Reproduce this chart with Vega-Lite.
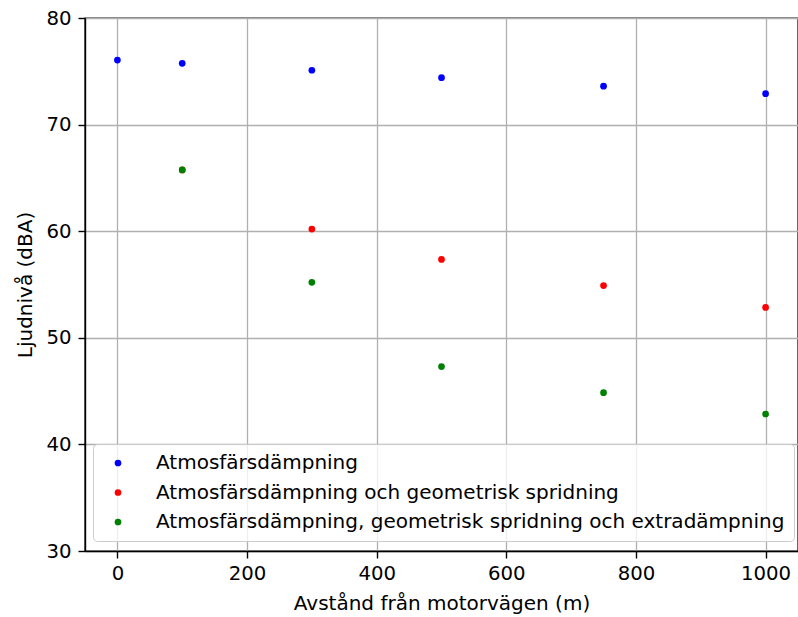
{
  "$schema": "https://vega.github.io/schema/vega-lite/v6.json",
  "width": 713,
  "height": 533,
  "autosize": {"type": "none"},
  "padding": {"left": 85, "top": 18, "right": 0, "bottom": 66},
  "background": "white",
  "config": {
    "font": "DejaVu Sans",
    "view": {"stroke": "#000000", "strokeWidth": 1.4},
    "axis": {
      "gridColor": "#b0b0b0",
      "gridWidth": 1.3,
      "domainColor": "#000000",
      "domainWidth": 1.4,
      "tickColor": "#000000",
      "tickSize": 7,
      "tickWidth": 1.4,
      "labelFont": "DejaVu Sans",
      "labelFontSize": 19.7,
      "labelColor": "#000000",
      "titleFont": "DejaVu Sans",
      "titleFontSize": 20,
      "titleFontWeight": "normal",
      "titleColor": "#000000"
    }
  },
  "data": {
    "values": [
      {"avstand": 0, "niva": 76.05, "serie": "Atmosfärsdämpning"},
      {"avstand": 100, "niva": 75.75, "serie": "Atmosfärsdämpning"},
      {"avstand": 300, "niva": 75.1, "serie": "Atmosfärsdämpning"},
      {"avstand": 500, "niva": 74.4, "serie": "Atmosfärsdämpning"},
      {"avstand": 750, "niva": 73.6, "serie": "Atmosfärsdämpning"},
      {"avstand": 1000, "niva": 72.9, "serie": "Atmosfärsdämpning"},
      {"avstand": 100, "niva": 65.75, "serie": "Atmosfärsdämpning och geometrisk spridning"},
      {"avstand": 300, "niva": 60.2, "serie": "Atmosfärsdämpning och geometrisk spridning"},
      {"avstand": 500, "niva": 57.35, "serie": "Atmosfärsdämpning och geometrisk spridning"},
      {"avstand": 750, "niva": 54.9, "serie": "Atmosfärsdämpning och geometrisk spridning"},
      {"avstand": 1000, "niva": 52.85, "serie": "Atmosfärsdämpning och geometrisk spridning"},
      {"avstand": 100, "niva": 65.75, "serie": "Atmosfärsdämpning, geometrisk spridning och extradämpning"},
      {"avstand": 300, "niva": 55.2, "serie": "Atmosfärsdämpning, geometrisk spridning och extradämpning"},
      {"avstand": 500, "niva": 47.3, "serie": "Atmosfärsdämpning, geometrisk spridning och extradämpning"},
      {"avstand": 750, "niva": 44.85, "serie": "Atmosfärsdämpning, geometrisk spridning och extradämpning"},
      {"avstand": 1000, "niva": 42.85, "serie": "Atmosfärsdämpning, geometrisk spridning och extradämpning"}
    ]
  },
  "mark": {"type": "circle", "size": 45, "opacity": 1},
  "encoding": {
    "x": {
      "field": "avstand",
      "type": "quantitative",
      "title": "Avstånd från motorvägen (m)",
      "scale": {"domain": [-50, 1050], "nice": false, "zero": false},
      "axis": {"values": [0, 200, 400, 600, 800, 1000], "format": "d", "labelPadding": 5, "titlePadding": 11}
    },
    "y": {
      "field": "niva",
      "type": "quantitative",
      "title": "Ljudnivå (dBA)",
      "scale": {"domain": [30, 80], "nice": false, "zero": false},
      "axis": {"values": [30, 40, 50, 60, 70, 80], "format": "d", "labelPadding": 7, "titlePadding": 10}
    },
    "color": {
      "field": "serie",
      "type": "nominal",
      "sort": null,
      "scale": {
        "domain": [
          "Atmosfärsdämpning",
          "Atmosfärsdämpning och geometrisk spridning",
          "Atmosfärsdämpning, geometrisk spridning och extradämpning"
        ],
        "range": ["#0000ff", "#ff0000", "#008000"]
      },
      "legend": {
        "title": null,
        "orient": "none",
        "legendX": 8,
        "legendY": 426,
        "padding": 9,
        "fillColor": "rgba(255,255,255,0.8)",
        "strokeColor": "#cccccc",
        "cornerRadius": 4,
        "symbolType": "circle",
        "symbolSize": 45,
        "symbolOpacity": 1,
        "symbolOffset": 6,
        "labelOffset": 28,
        "labelFont": "DejaVu Sans",
        "labelFontSize": 20,
        "labelColor": "#000000",
        "labelLimit": 800,
        "rowPadding": 9.5
      }
    }
  }
}
